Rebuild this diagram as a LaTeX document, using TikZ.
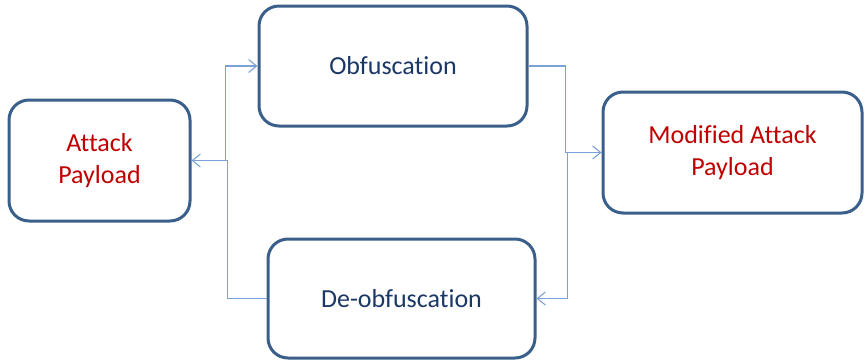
\documentclass[tikz,border=0pt]{standalone}
\usepackage{fontspec}
\setmainfont{Carlito}[Ligatures={NoCommon}]
\usetikzlibrary{arrows.meta}
\definecolor{boxline}{HTML}{3A5F8B}
\definecolor{connline}{HTML}{7BA2D6}
\definecolor{navytext}{HTML}{1A3866}
\definecolor{redtext}{HTML}{C00000}
\tikzset{
  procbox/.style={draw=boxline, line width=3pt, rounded corners=20pt, fill=white,
    align=center, inner sep=0pt, font=\fontsize{26}{32}\selectfont},
  conn/.style={draw=connline, line width=1.3pt,
    -{Straight Barb[length=8pt,width=13pt,line width=1.1pt]}}
}
\begin{document}
\begin{tikzpicture}[x=1pt,y=-1pt]
  \useasboundingbox (0,0) rectangle (865,362);
  % processing stages
  \node[procbox, minimum width=181pt, minimum height=121pt, text=redtext]
    (att) at (99.5,160.5) {Attack\\Payload};
  \node[procbox, minimum width=268pt, minimum height=120pt, text=navytext]
    (obf) at (393,66) {Obfuscation};
  \node[procbox, minimum width=259pt, minimum height=121pt, text=redtext]
    (mod) at (732.5,152.5) {Modified Attack\\Payload};
  \node[procbox, minimum width=267pt, minimum height=119pt, text=navytext]
    (deo) at (401.5,298.5) {De-obfuscation};
  % elbow connectors between the stages
  \draw[conn] (att.east) -- ++(34,0) |- (obf.west);
  \draw[conn] (obf.east) -- ++(37,0) |- (mod.west);
  \draw[conn] (mod.west) -- ++(-34,0) |- (deo.east);
  \draw[conn] (deo.west) -- ++(-39,0) |- (att.east);
\end{tikzpicture}
\end{document}
